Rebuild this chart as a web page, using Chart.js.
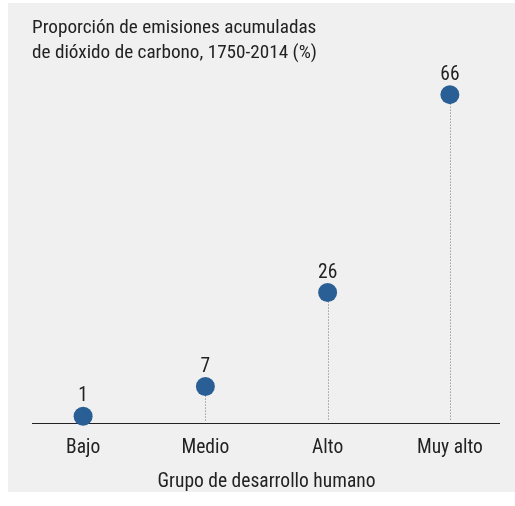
<!DOCTYPE html>
<html>
<head>
<meta charset="utf-8">
<script src="https://cdn.jsdelivr.net/npm/chart.js@4"></script>
<style>
  html, body { margin: 0; padding: 0; background: #fff; }
  #wrap { width: 515px; height: 506px; }
</style>
</head>
<body>
<div id="wrap"><canvas id="chart" width="515" height="506"></canvas></div>
<script>
// Data
const categories = ['Bajo', 'Medio', 'Alto', 'Muy alto'];
const shares = [1, 7, 26, 66];
const titleLines = ['Proporción de emisiones acumuladas', 'de dióxido de carbono, 1750-2014 (%)'];
const xTitle = 'Grupo de desarrollo humano';

const FONT = '"Roboto Condensed", "Liberation Sans Narrow", Roboto, sans-serif';
const DOT = '#2a5f96';
const INK = '#222';

// Background panel, title, stems, baseline and value labels
const lollipop = {
  id: 'lollipop',
  beforeDraw(chart) {
    const ctx = chart.ctx;
    ctx.save();
    ctx.fillStyle = '#f0f0f0';
    ctx.fillRect(8, 3, 507, 489);
    ctx.fillStyle = INK;
    ctx.font = '19.2px ' + FONT;
    ctx.textBaseline = 'alphabetic';
    titleLines.forEach((t, i) => ctx.fillText(t, 32, 33 + i * 25));
    ctx.restore();
  },
  beforeDatasetsDraw(chart) {
    const ctx = chart.ctx;
    const y0 = chart.scales.y.getPixelForValue(0);
    const pts = chart.getDatasetMeta(0).data;
    ctx.save();
    ctx.strokeStyle = '#777';
    ctx.lineWidth = 1;
    ctx.setLineDash([1, 2]);
    pts.forEach(p => {
      ctx.beginPath();
      ctx.moveTo(Math.round(p.x) + 0.5, p.y);
      ctx.lineTo(Math.round(p.x) + 0.5, y0);
      ctx.stroke();
    });
    ctx.setLineDash([]);
    ctx.strokeStyle = '#222';
    ctx.beginPath();
    ctx.moveTo(32, Math.round(y0) + 2.5);
    ctx.lineTo(500, Math.round(y0) + 2.5);
    ctx.stroke();
    ctx.restore();
  },
  afterDatasetsDraw(chart) {
    const ctx = chart.ctx;
    const pts = chart.getDatasetMeta(0).data;
    ctx.save();
    ctx.fillStyle = INK;
    ctx.font = '19.5px ' + FONT;
    ctx.textAlign = 'center';
    ctx.textBaseline = 'alphabetic';
    pts.forEach((p, i) => ctx.fillText(String(shares[i]), p.x, p.y - 15));
    ctx.restore();
  }
};

new Chart(document.getElementById('chart'), {
  type: 'line',
  data: {
    labels: categories,
    datasets: [{
      data: shares,
      showLine: false,
      clip: false,
      pointRadius: 9.5,
      pointHoverRadius: 9.5,
      pointBackgroundColor: DOT,
      pointBorderColor: DOT,
      pointBorderWidth: 0
    }]
  },
  options: {
    responsive: false,
    animation: false,
    events: [],
    layout: { autoPadding: false, padding: { left: 22, right: 4, top: 60, bottom: 12 } },
    plugins: {
      legend: { display: false },
      tooltip: { enabled: false }
    },
    scales: {
      x: {
        offset: true,
        grid: { display: false, drawTicks: false },
        border: { display: false },
        ticks: { color: INK, font: { family: FONT, size: 19.5 }, padding: 15 },
        title: {
          display: true,
          text: xTitle,
          color: INK,
          font: { family: FONT, size: 19.5 },
          padding: { top: -4, bottom: 0 }
        }
      },
      y: {
        display: false,
        min: 0,
        max: 73
      }
    }
  },
  plugins: [lollipop]
});
</script>
</body>
</html>
